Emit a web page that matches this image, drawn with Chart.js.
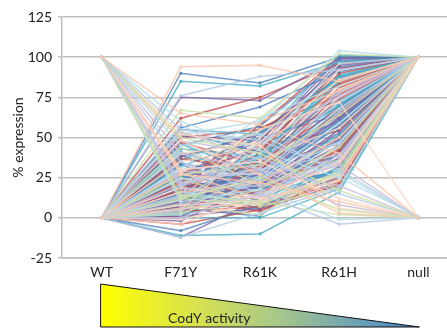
<!DOCTYPE html>
<html>
<head>
<meta charset="utf-8">
<script src="https://cdn.jsdelivr.net/npm/chart.js@4/dist/chart.umd.min.js"></script>
<style>
  body { margin: 0; background: #fff; overflow: hidden; }
  #wrap { width: 462px; height: 329px; }
</style>
</head>
<body>
<div id="wrap"><canvas id="expressionChart" width="462" height="329"></canvas></div>
<script>
// categories (strains, from full CodY activity to none)
const categories = ['WT', 'F71Y', 'R61K', 'R61H', 'null'];
const yTicks = [-25, 0, 25, 50, 75, 100, 125];
const activityLabel = 'CodY activity';

// genes repressed by CodY: % expression per strain (WT, F71Y, R61K, R61H, null)
const downGenes = [
  [100, 65, 58, 40, 0],
  [100, 55, 48, 30, 0],
  [100, 50, 40, 17, 0],
  [100, 45, 52, 28, 0],
  [100, 40, 30, 20, 0],
  [100, 30, 35, 12, 0],
  [100, 27, 22, 10, 0],
  [100, 20, 38, 15, 0],
  [100, 12, 25, 5, 0],
  [100, 10, 18, -1, 0],
  [100, 22, 30, 8, 0],
  [100, 52, 45, 6, 0],
  [100, 48, 27, 3, 0],
  [100, 35, 15, -4, 0],
  [100, 14, 10, 2, 0],
  [100, 60, 42, 25, 1],
  [100, 18, 20, 33, 0],
  [100, 28, 55, 72, 0]
];

// genes activated as CodY activity drops
const upGenes = [
  [0, 94, 95, 85, 100], [0, 90, 84, 100, 100], [0, 85, 82, 97, 100], [0, 76, 88, 92, 100],
  [0, 75, 73, 99, 100], [0, 62, 75, 96, 100], [0, 67, 62, 102, 100], [0, 56, 69, 91, 100],
  [0, 55, 52, 88, 100], [0, 52, 60, 104, 100], [0, 51, 48, 95, 100], [0, 50, 55, 83, 100],
  [0, 48, 40, 78, 100], [0, 45, 57, 98, 100], [0, 43, 38, 70, 100], [0, 40, 47, 86, 100],
  [0, 38, 52, 93, 100], [0, 37, 30, 66, 100], [0, 35, 44, 80, 100], [0, 34, 25, 60, 100],
  [0, 32, 50, 101, 100], [0, 30, 35, 72, 100], [0, 29, 20, 55, 100], [0, 28, 42, 90, 100],
  [0, 27, 33, 64, 100], [0, 26, 18, 48, 100], [0, 25, 39, 85, 100], [0, 24, 28, 68, 100],
  [0, 23, 45, 97, 100], [0, 22, 15, 42, 100], [0, 21, 31, 75, 100], [0, 20, 24, 58, 100],
  [0, 20, 37, 88, 100], [0, 19, 12, 35, 100], [0, 18, 27, 62, 100], [0, 17, 40, 93, 100],
  [0, 16, 22, 50, 100], [0, 15, 34, 79, 100], [0, 15, 10, 30, 100], [0, 14, 26, 66, 100],
  [0, 13, 19, 45, 100], [0, 13, 36, 84, 100], [0, 12, 8, 28, 100], [0, 12, 29, 70, 100],
  [0, 11, 21, 52, 100], [0, 11, 43, 96, 100], [0, 10, 16, 40, 100], [0, 10, 32, 77, 100],
  [0, 9, 13, 34, 100], [0, 9, 25, 61, 100], [0, 8, 38, 89, 100], [0, 8, 11, 27, 100],
  [0, 7, 20, 49, 100], [0, 7, 30, 74, 100], [0, 6, 9, 24, 100], [0, 6, 23, 57, 100],
  [0, 5, 35, 86, 100], [0, 5, 14, 36, 100], [0, 4, 27, 65, 100], [0, 4, 7, 22, 100],
  [0, 3, 18, 44, 100], [0, 3, 41, 94, 100], [0, 2, 12, 31, 100], [0, 2, 24, 59, 100],
  [0, 1, 6, 20, 100], [0, 1, 33, 81, 100], [0, 0, 16, 38, 100], [0, 0, 28, 67, 100],
  [0, 0, 0, 18, 100], [0, -1, 10, 26, 100], [0, -2, 22, 53, 100], [0, -4, 5, 21, 100],
  [0, -4, 15, 33, 100], [0, -8, 8, 25, 100], [0, -11, -10, 16, 100], [0, -12, 3, 19, 100],
  [0, -12, 12, 37, 100], [0, 47, 33, 46, 100], [0, 44, 20, 36, 100], [0, 53, 41, 60, 100],
  [0, 36, 55, 73, 100], [0, 31, 62, 82, 100], [0, 26, 48, 99, 100], [0, 22, 58, 100, 100],
  [0, 19, 46, 76, 100], [0, 14, 53, 87, 100], [0, 9, 44, 71, 100], [0, 5, 50, 92, 100],
  [0, 3, 37, 63, 100], [0, 1, 45, 54, 100], [0, 28, 12, 23, 100], [0, 33, 18, 29, 100],
  [0, 41, 24, 39, 100], [0, 58, 30, 47, 100], [0, 17, 6, 32, 100], [0, 12, 4, 26, 100],
  [0, 8, 2, 30, 100], [0, 6, 1, 41, 100], [0, 10, 5, 56, 100], [0, 16, 9, 46, 100],
  [0, 24, 14, 51, 100], [0, 20, 16, 43, 100], [0, 29, 27, 34, 100], [0, 39, 22, 27, 100],
  [0, 46, 27, 35, 100], [0, 54, 36, 56, 100], [0, 27, 50, 64, 100], [0, 18, 56, 76, 100],
  [0, 11, 60, 79, 100], [0, 7, 47, 69, 100], [0, 2, 40, 48, 100], [0, 4, 30, 39, 100],
  [0, 15, 29, 57, 100], [0, 21, 11, 24, 100], [0, 25, 7, 19, 100], [0, 3, 20, 29, 100],
  [0, 9, 18, 37, 100], [0, 13, 24, 47, 100], [0, 18, 30, 62, 100], [0, 23, 35, 68, 100]
];

// Excel-like series colours: strong ones, then the pale tints drawn on top
const strongColors = [
  'rgba(155, 187, 89, 0.8)', 'rgba(79, 129, 189, 0.8)', 'rgba(75, 172, 198, 0.8)',
  'rgba(247, 150, 70, 0.8)', 'rgba(128, 100, 162, 0.8)', 'rgba(192, 80, 77, 0.8)'
];
const paleColors = [
  'rgba(249, 200, 175, 0.85)', 'rgba(185, 205, 229, 0.85)', 'rgba(205, 225, 170, 0.85)',
  'rgba(183, 222, 232, 0.85)', 'rgba(204, 193, 218, 0.85)', 'rgba(250, 215, 195, 0.85)'
];

function makeDataset(values, color, order) {
  return {
    data: values,
    borderColor: color,
    backgroundColor: color,
    borderWidth: 1.5,
    pointStyle: 'rect',
    pointRadius: 2,
    pointBorderWidth: 0,
    order: order
  };
}

const datasets = [];
downGenes.forEach((g, i) => datasets.push(makeDataset(g, paleColors[i % paleColors.length], 0)));
upGenes.forEach((g, i) => {
  if (i % 3 === 0) {
    datasets.push(makeDataset(g, paleColors[Math.floor(i / 3) % paleColors.length], 0));
  } else {
    datasets.push(makeDataset(g, strongColors[i % strongColors.length], 1));
  }
});

// Triangle under the x axis showing falling CodY activity
const activityTriangle = {
  id: 'activityTriangle',
  afterDraw(chart) {
    const ctx = chart.ctx;
    const x = chart.scales.x;
    const left = x.getPixelForValue(0) - 1;
    const right = x.getPixelForValue(4) + 1;
    const top = 284, bottom = 327;
    const grad = ctx.createLinearGradient(left, 0, right, 0);
    grad.addColorStop(0, '#ffff00');
    grad.addColorStop(0.3, '#d8e24e');
    grad.addColorStop(0.55, '#a9c98a');
    grad.addColorStop(0.8, '#6ea2b4');
    grad.addColorStop(1, '#3f86c8');
    ctx.save();
    ctx.beginPath();
    ctx.moveTo(left, top);
    ctx.lineTo(right, bottom);
    ctx.lineTo(left, bottom);
    ctx.closePath();
    ctx.fillStyle = grad;
    ctx.fill();
    ctx.strokeStyle = '#111';
    ctx.lineWidth = 1;
    ctx.stroke();
    ctx.fillStyle = '#222';
    ctx.font = '14px Lato, "Open Sans", sans-serif';
    ctx.textBaseline = 'alphabetic';
    ctx.fillText(activityLabel, 168, 323);
    ctx.restore();
  }
};

document.addEventListener('DOMContentLoaded', function() {
  const ctx = document.getElementById('expressionChart').getContext('2d');
  new Chart(ctx, {
    type: 'line',
    data: { labels: categories, datasets: datasets },
    options: {
      responsive: false,
      animation: false,
      layout: { padding: { top: 17, right: 0, bottom: 0, left: 0 } },
      plugins: { legend: { display: false }, tooltip: { enabled: false } },
      scales: {
        x: {
          offset: true,
          grid: { display: false, drawTicks: false },
          border: { color: '#bfbfbf', width: 1.5 },
          ticks: { padding: 6, color: '#222', font: { family: 'Lato', size: 14 } },
          afterFit(scale) { scale.height = 71; }
        },
        y: {
          min: -25,
          max: 125,
          afterBuildTicks(scale) { scale.ticks = yTicks.map(v => ({ value: v })); },
          grid: { color: '#bfbfbf', lineWidth: 1.5, tickLength: 4 },
          border: { color: '#bfbfbf', width: 1.5 },
          ticks: { padding: 6, color: '#222', font: { family: 'Lato', size: 14 } },
          title: {
            display: true,
            text: '% expression',
            color: '#222',
            font: { family: 'Lato', size: 14 },
            padding: { top: 10, bottom: 0 }
          },
          afterFit(scale) { scale.width = 62; }
        }
      }
    },
    plugins: [activityTriangle]
  });
});
</script>
</body>
</html>
